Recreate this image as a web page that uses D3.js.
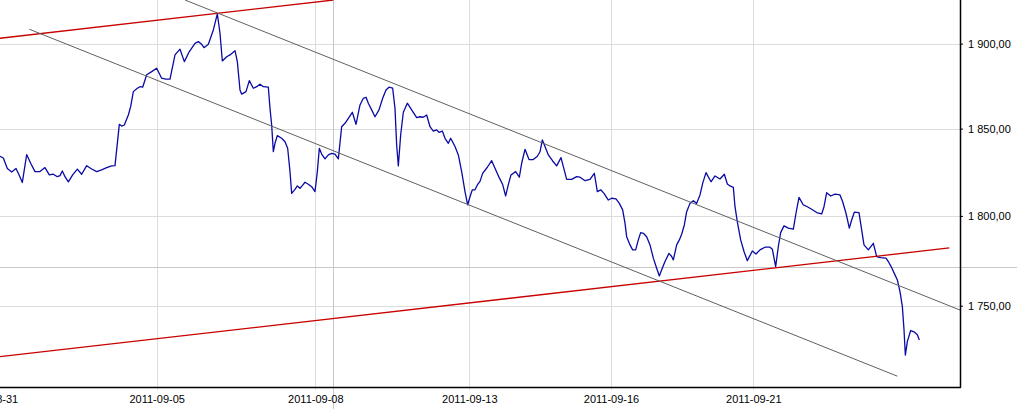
<!DOCTYPE html>
<html>
<head>
<meta charset="utf-8">
<script src="https://cdn.jsdelivr.net/npm/d3@7"></script>
<style>
  body { margin: 0; background: #fff; }
  text { font-family: "Liberation Sans", Arial, sans-serif; font-size: 11px; fill: #000; }
</style>
</head>
<body>
<script>
// price series (bar number, close)
const bars = [
  0, 1, 2.2, 3.5, 4.8, 5.8, 6.7, 8, 9.2, 10.5, 12, 13.5, 14.8, 16, 17.2, 18, 18.7, 19.5, 20.5, 21.8,
  23.2, 24.5, 26, 27.5, 29, 30.5, 32, 33.5, 34.5, 35.8, 36.5, 37.3, 38.5, 39.2, 40, 41.2, 42, 42.8, 44, 45.5,
  47, 48.5, 49.7, 51, 52.5, 54, 55.3, 56.8, 58.5, 59.5, 60.5, 61.2, 62.5, 64, 65.2, 66, 66.7, 68, 69, 70.5,
  71.2, 72, 72.5, 73.8, 74.8, 76, 77, 78, 79, 80.5, 81, 81.5, 82, 82.5, 83.2, 84.5, 85.5, 86.3, 87, 87.5,
  88.5, 89.2, 90, 90.7, 91.5, 92.5, 93.5, 94.5, 95.2, 95.8, 96.5, 97.5, 98.5, 99.5, 100.5, 101.5, 102.5, 103.5, 104.5, 105.7,
  106.8, 108, 109, 109.8, 110.5, 111.5, 112.5, 113.7, 114.8, 115.8, 116.7, 117.8, 118.5, 119, 119.5, 120.2, 121, 122.2, 123.5, 125,
  126, 127, 128, 129, 130, 131, 131.8, 132.7, 133.5, 134.5, 135.2, 136.5, 137.5, 138.5, 139.5, 140.3, 141, 141.7, 142.5, 143.2,
  144, 144.8, 146.2, 147.5, 148.5, 149.8, 150.8, 151.7, 152.5, 153.3, 154.7, 155.8, 156.5, 157.5, 158.7, 160, 161.2, 162, 162.7, 163.5,
  164.5, 165.8, 167, 168.3, 169, 170, 171.5, 173, 174, 175.5, 177, 178.3, 179.2, 180.2, 181.2, 182.5, 183.5, 184.8, 185.8, 186.8,
  187.5, 188, 189, 189.8, 190.7, 191.5, 192.2, 193, 194, 195, 196, 197, 197.8, 198.5, 199.5, 200.7, 201.5, 202, 203, 203.8,
  204.5, 205.3, 206, 207, 208, 209, 210, 210.8, 211.8, 213.3, 214.5, 216, 217.3, 218.2, 219, 220, 220.5, 221.2, 222.2, 223.2,
  224.2, 225.7, 226.8, 228, 229.5, 231, 231.7, 232.7, 233.5, 234.2, 235.2, 236.5, 238, 238.8, 239.7, 241, 242.2, 243.5, 245, 246.5,
  247.2, 248, 249.2, 250.5, 252, 252.8, 253.8, 254.8, 255.5, 256.3, 257.7, 258.5, 259.2, 260.5, 262, 263, 264.2, 265.8, 266.5, 267.5,
  268.5, 269.2, 270, 270.7, 271.2, 271.6, 272.2, 273.2, 274.2, 275.2, 275.8
];
const closes = [
  1834, 1833, 1827, 1825, 1827, 1823, 1819, 1835, 1830, 1825.2, 1825.2, 1827.5, 1823.3, 1823.7, 1822.3, 1822.9, 1825.6, 1822.3, 1819.3, 1823.3,
  1826.6, 1823.7, 1828.6, 1826.7, 1825.2, 1826.2, 1827.5, 1828.5, 1828.6, 1852.5, 1851.5, 1852.1, 1857.9, 1862.8, 1871.6, 1873.6, 1874.5, 1874.2, 1881.5, 1883.4,
  1885.4, 1879.5, 1878.9, 1878.9, 1893.3, 1896.7, 1889.3, 1895.3, 1900.2, 1901.2, 1899.6, 1897.6, 1899.6, 1908.2, 1917.8, 1906.2, 1889.7, 1892.2, 1893.3, 1895.8,
  1889.3, 1872.6, 1870.1, 1871.6, 1878.1, 1873.6, 1874.5, 1876.0, 1874.5, 1874.2, 1861.8, 1852.1, 1836.7, 1841.5, 1845.9, 1844.4, 1842.4, 1838.6, 1825.2, 1812.8,
  1815.1, 1817.0, 1815.7, 1817.2, 1819.1, 1818.0, 1816.6, 1813.8, 1825.2, 1838.6, 1835.3, 1832.5, 1834.8, 1835.7, 1835.3, 1832.5, 1851.1, 1853.1, 1856.0, 1859.5,
  1852.5, 1863.8, 1867.7, 1868.3, 1864.8, 1860.9, 1856.9, 1860.9, 1867.7, 1872.6, 1874.2, 1873.6, 1861.8, 1840.5, 1828.5, 1846.3, 1859.5, 1864.8, 1860.9, 1856.4,
  1856.9, 1856.6, 1857.9, 1851.1, 1848.6, 1849.2, 1847.8, 1848.6, 1844.4, 1841.5, 1844.4, 1839.6, 1834.8, 1825.2, 1813.8, 1806.2, 1810.9, 1814.8, 1814.8, 1817.6,
  1819.6, 1824.2, 1827.7, 1831.5, 1827.1, 1821.6, 1817.8, 1811.3, 1817.8, 1823.3, 1825.2, 1822.0, 1830.0, 1838.0, 1832.1, 1832.1, 1834.0, 1836.6, 1843.4, 1839.6,
  1834.8, 1831.3, 1828.5, 1833.2, 1828.1, 1820.8, 1820.8, 1822.3, 1822.0, 1820.0, 1820.8, 1824.2, 1813.8, 1814.8, 1812.8, 1809.0, 1810.0, 1809.6, 1807.1, 1803.4,
  1795.9, 1788.3, 1783.7, 1780.9, 1780.9, 1786.5, 1790.6, 1790.2, 1788.3, 1783.7, 1776.3, 1770.7, 1766.4, 1769.8, 1774.4, 1779.0, 1777.2, 1775.3, 1783.7, 1786.5,
  1789.7, 1794.9, 1802.4, 1807.1, 1808.6, 1807.1, 1811.9, 1818.5, 1824.6, 1819.4, 1822.7, 1821.0, 1823.7, 1818.1, 1817.0, 1816.2, 1805.2, 1796.7, 1786.5, 1780.0,
  1774.9, 1780.3, 1778.6, 1780.9, 1782.4, 1782.4, 1781.3, 1771.6, 1782.8, 1790.6, 1794.4, 1793.1, 1792.5, 1801.5, 1810.5, 1806.2, 1805.2, 1803.8, 1801.9, 1801.1,
  1805.2, 1813.2, 1811.3, 1812.4, 1811.9, 1808.0, 1801.5, 1793.1, 1797.7, 1802.1, 1801.9, 1792.1, 1783.7, 1780.9, 1784.6, 1777.2, 1776.6, 1776.3, 1774.4, 1771.0,
  1767.0, 1764.2, 1757.7, 1749.6, 1737.0, 1723.1, 1730.4, 1736.4, 1735.7, 1734.1, 1731.3
];

// date ticks (bar position, label)
const tickBars = [-3, 47, 94.6, 140.8, 183.3, 226];
const tickLabels = ["2011-08-31", "2011-09-05", "2011-09-08", "2011-09-13", "2011-09-16", "2011-09-21"];
const priceTicks = [1750, 1800, 1850, 1900];

// drawn trend lines: two red parallels, two grey parallels
const trendStartBar = [0, 0, 55.5, 8.8];
const trendStartVal = [1903.2, 1722.2, 1926.2, 1908.6];
const trendEndBar = [100, 284.8, 288, 269.2];
const trendEndVal = [1926.2, 1782.0, 1747.6, 1711.7];
const trendKind = ["red", "red", "grey", "grey"];

// crosshair position
const crossBar = 100;
const crossVal = 1771.2;

const width = 1017, height = 409;
const plotW = 960, plotH = 387;

const svg = d3.select("body").append("svg")
  .attr("width", width)
  .attr("height", height);

const x = d3.scaleLinear().domain([0, 288]).range([0, plotW]);
const y = d3.scaleLog().domain([1705.9, 1926.2]).range([plotH, 0]);

svg.append("clipPath").attr("id", "plotclip")
  .append("rect").attr("x", 0).attr("y", 0).attr("width", plotW).attr("height", plotH);

// grid
const grid = svg.append("g").attr("stroke", "#dcdcdc").attr("stroke-width", 1);
grid.selectAll("line.h").data(priceTicks).enter().append("line")
  .attr("x1", 0).attr("x2", plotW)
  .attr("y1", d => Math.round(y(d)) + 0.5).attr("y2", d => Math.round(y(d)) + 0.5);
grid.selectAll("line.v").data(tickBars).enter().append("line")
  .attr("y1", 0).attr("y2", plotH + 3)
  .attr("x1", d => Math.round(x(d)) + 0.5).attr("x2", d => Math.round(x(d)) + 0.5);

// crosshair
const cx = Math.round(x(crossBar)) + 0.5, cy = Math.round(y(crossVal)) + 0.5;
svg.append("line").attr("x1", cx).attr("x2", cx).attr("y1", 0).attr("y2", height)
  .attr("stroke", "#c8c8c8");
svg.append("line").attr("x1", 0).attr("x2", width).attr("y1", cy).attr("y2", cy)
  .attr("stroke", "#c8c8c8");

const plot = svg.append("g").attr("clip-path", "url(#plotclip)");

// price line
const pts = bars.map((b, i) => [b, closes[i]]);
const line = d3.line().x(d => x(d[0])).y(d => y(d[1]));
plot.append("path")
  .attr("d", line(pts))
  .attr("fill", "none")
  .attr("stroke", "#0a0aa5")
  .attr("stroke-width", 1.3)
  .attr("stroke-linejoin", "round");

// trend lines
plot.selectAll("line.trend").data(trendKind).enter().append("line")
  .attr("x1", (d, i) => x(trendStartBar[i]))
  .attr("y1", (d, i) => y(trendStartVal[i]))
  .attr("x2", (d, i) => x(trendEndBar[i]))
  .attr("y2", (d, i) => y(trendEndVal[i]))
  .attr("stroke", d => d === "red" ? "#c80000" : "#606060")
  .attr("stroke-width", d => d === "red" ? 1.3 : 1);

// axes
const loc = d3.formatLocale({ decimal: ",", thousands: " ", grouping: [3], currency: ["", ""] });
const fmt = loc.format(",.2f");

const yAxis = svg.append("g")
  .attr("transform", `translate(${plotW},0)`)
  .call(d3.axisRight(y).tickValues(priceTicks).tickFormat(fmt).tickSize(3).tickPadding(5).tickSizeOuter(0));
yAxis.select(".domain").attr("d", `M0.5,0V${plotH + 0.5}`).attr("stroke", "#000").attr("stroke-width", 1.5);
yAxis.selectAll("text").style("font-size", "11px").style("font-family", "'Liberation Sans', Arial, sans-serif");

const xAxis = svg.append("g")
  .attr("transform", `translate(0,${plotH})`)
  .call(d3.axisBottom(x).tickValues(tickBars).tickFormat((d, i) => tickLabels[i]).tickSize(0).tickPadding(8).tickSizeOuter(0));
xAxis.select(".domain").attr("d", `M0,0.5H${plotW + 1}`).attr("stroke", "#000").attr("stroke-width", 1.5);
xAxis.selectAll("text").style("font-size", "11px").style("font-family", "'Liberation Sans', Arial, sans-serif");
</script>
</body>
</html>
